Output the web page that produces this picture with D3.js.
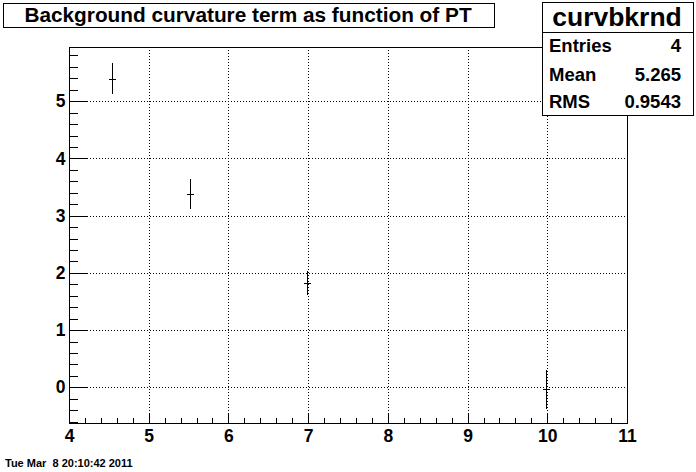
<!DOCTYPE html>
<html><head><meta charset="utf-8">
<script src="https://cdn.jsdelivr.net/npm/d3@7"></script>
<style>
html,body{margin:0;padding:0;background:#fff;}
svg{display:block;font-family:"Liberation Sans",Arial,Helvetica,sans-serif;}
</style></head>
<body>
<svg id="c" width="696" height="472"></svg>
<script>
// ---- data ----
const ptX = [4.54, 5.52, 6.98, 9.99];
const ptY = [5.39, 3.38, 1.82, -0.03];
const ptErr = [0.27, 0.255, 0.21, 0.34];
const xDomain = [4, 11];
const yDomain = [-0.623, 5.947];
const xMajorTicks = [4, 5, 6, 7, 8, 9, 10, 11];
const yMajorTicks = [0, 1, 2, 3, 4, 5];
const titleText = "Background curvature term as function of PT";
const statsName = "curvbkrnd";
const statsLabels = ["Entries", "Mean", "RMS"];
const statsValues = ["4", "5.265", "0.9543"];
const dateText = "Tue Mar  8 20:10:42 2011";

// ---- layout ----
const svg = d3.select("#c");
const L = 69, R = 627, T = 47, B = 423;
const x = d3.scaleLinear().domain(xDomain).range([L, R]);
const y = d3.scaleLinear().domain(yDomain).range([B, T]);

svg.append("rect").attr("width", 696).attr("height", 472).attr("fill", "#fff");

// grid
const grid = svg.append("g").attr("stroke", "#000").attr("stroke-width", 1).attr("stroke-dasharray", "1,2");
grid.selectAll("line.gx").data(xMajorTicks.filter(v => v > xDomain[0] && v < xDomain[1])).enter()
  .append("line").attr("x1", d => Math.round(x(d)) + 0.5).attr("x2", d => Math.round(x(d)) + 0.5)
  .attr("y1", T).attr("y2", B);
grid.selectAll("line.gy").data(yMajorTicks).enter()
  .append("line").attr("y1", d => Math.round(y(d)) + 0.5).attr("y2", d => Math.round(y(d)) + 0.5)
  .attr("x1", L).attr("x2", R);

// frame
svg.append("rect").attr("x", L + 0.5).attr("y", T + 0.5).attr("width", R - L).attr("height", B - T)
  .attr("fill", "none").attr("stroke", "#000").attr("stroke-width", 1);

// axes
const minorX = d3.range(xDomain[0], xDomain[1] + 1e-9, 0.2);
const minorY = d3.range(-0.6, 5.9, 0.2);
function styleAxis(g) {
  g.select(".domain").remove();
  g.selectAll("line").attr("stroke", "#000").attr("shape-rendering", "crispEdges");
  g.selectAll("text").attr("font-size", "17.5px").attr("font-weight", "bold").attr("fill", "#000")
    .attr("font-family", "Liberation Sans, Arial, sans-serif");
}
svg.append("g").attr("transform", `translate(0,${B + 0.5})`)
  .call(d3.axisBottom(x).tickValues(minorX).tickSize(-5.5).tickFormat(""))
  .call(styleAxis);
svg.append("g").attr("transform", `translate(0,${B + 0.5})`)
  .call(d3.axisBottom(x).tickValues(xMajorTicks).tickSize(-11).tickPadding(6).tickFormat(d3.format("d")))
  .call(styleAxis)
  .selectAll("text").attr("dy", "0.71em").attr("y", 6);
svg.append("g").attr("transform", `translate(${L + 0.5},0)`)
  .call(d3.axisLeft(y).tickValues(minorY).tickSize(-8.5).tickFormat(""))
  .call(styleAxis);
svg.append("g").attr("transform", `translate(${L + 0.5},0)`)
  .call(d3.axisLeft(y).tickValues(yMajorTicks).tickSize(-17).tickPadding(4).tickFormat(d3.format("d")))
  .call(styleAxis);

// points with error bars
const pts = svg.append("g").attr("stroke", "#000").attr("stroke-width", 1).attr("shape-rendering", "crispEdges");
ptX.forEach((xv, i) => {
  const px = Math.round(x(xv)) + 0.5;
  pts.append("line").attr("x1", px).attr("x2", px)
    .attr("y1", y(ptY[i] + ptErr[i])).attr("y2", y(ptY[i] - ptErr[i]));
  const py = Math.round(y(ptY[i])) + 0.5;
  pts.append("line").attr("x1", px - 3.5).attr("x2", px + 3.5).attr("y1", py).attr("y2", py);
});

// title box
svg.append("rect").attr("x", 3.5).attr("y", 3.5).attr("width", 491).attr("height", 24)
  .attr("fill", "#fff").attr("stroke", "#000");
svg.append("text").attr("x", 248).attr("y", 22).attr("text-anchor", "middle")
  .attr("font-size", "20.8px").attr("font-weight", "bold").text(titleText);

// stats box
const sx = 542.5, sy = 2.5, sw = 151, sh = 113;
svg.append("rect").attr("x", sx).attr("y", sy).attr("width", sw).attr("height", sh)
  .attr("fill", "#fff").attr("stroke", "#000");
svg.append("line").attr("x1", sx).attr("x2", sx + sw).attr("y1", 32.5).attr("y2", 32.5).attr("stroke", "#000");
svg.append("text").attr("x", 617).attr("y", 26).attr("text-anchor", "middle")
  .attr("font-size", "26.5px").attr("font-weight", "bold").text(statsName);
const rowY = [51.5, 80.5, 107.5];
statsLabels.forEach((lab, i) => {
  svg.append("text").attr("x", 549).attr("y", rowY[i]).attr("font-size", "18.5px").attr("font-weight", "bold").text(lab);
  svg.append("text").attr("x", 681).attr("y", rowY[i]).attr("text-anchor", "end")
    .attr("font-size", "18.5px").attr("font-weight", "bold").text(statsValues[i]);
});

// date
svg.append("text").attr("x", 5).attr("y", 467).attr("font-size", "11px").attr("font-weight", "bold")
  .attr("xml:space", "preserve").style("white-space", "pre").text(dateText);
</script>
</body></html>
